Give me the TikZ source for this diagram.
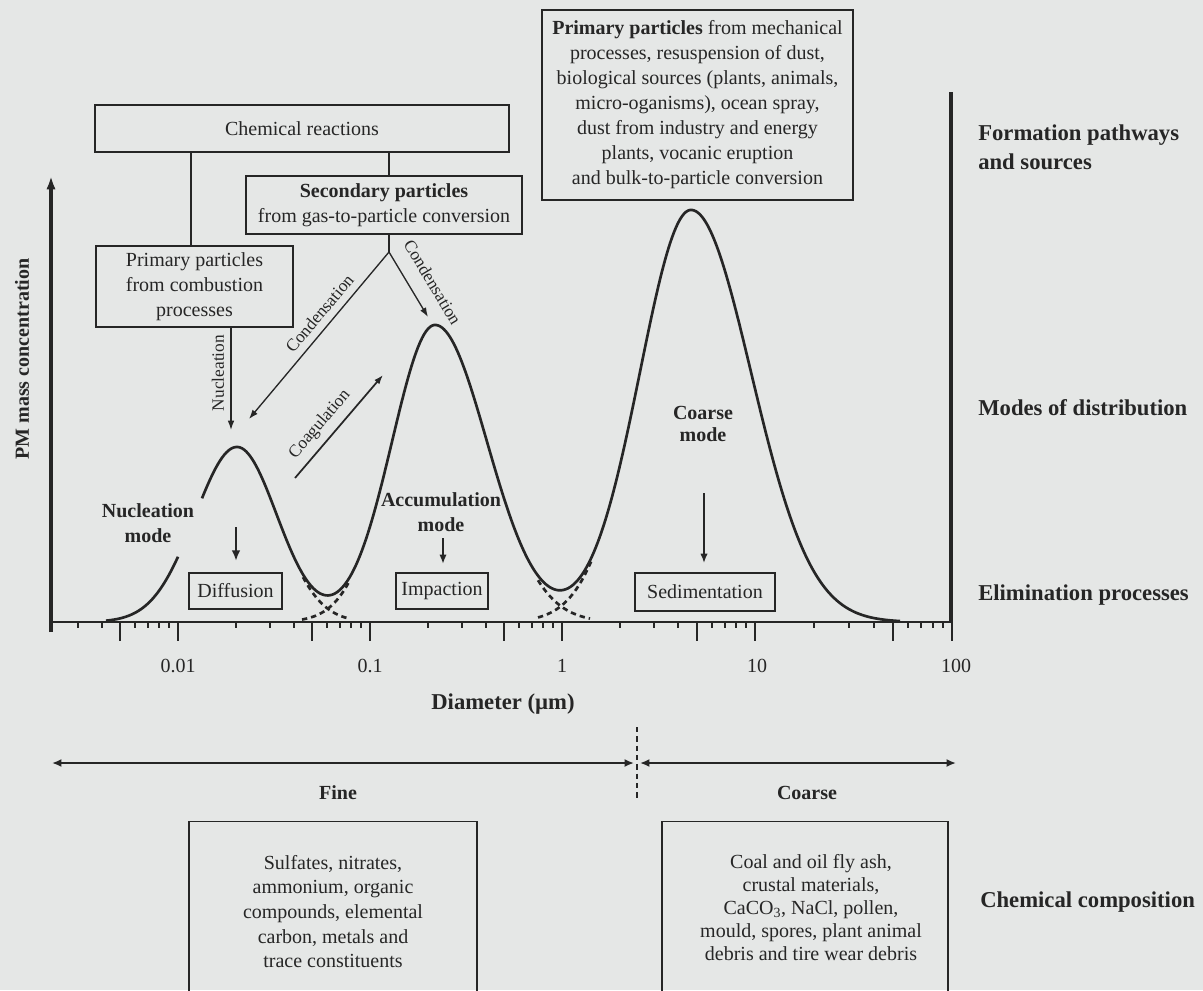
\documentclass[tikz,border=0pt]{standalone}
\usepackage{fontspec}
\setmainfont{Liberation Serif}
\usetikzlibrary{arrows.meta,calc}
\definecolor{bgc}{RGB}{229,231,230}
\definecolor{ink}{RGB}{38,38,38}
\def\pxu{*0.75pt}
\newcommand\myfsbox{\fontsize{15}{18.75}\selectfont}
\newcommand\myfsbig{\fontsize{17}{21.75}\selectfont}
\newcommand\myfssm{\fontsize{13}{15.6}\selectfont}
\newcommand\myfsbl{\fontsize{15}{18.5}\selectfont}
\newcommand\myfsbr{\fontsize{15}{17.25}\selectfont}
\begin{document}
\begin{tikzpicture}[x=0.75pt,y=-0.75pt,
  box/.style={draw=ink, line width=1.1pt, inner sep=0pt, align=center, font=\myfsbox, text=ink},
  openbox/.style={draw=ink, line width=1.1pt, inner sep=0pt, anchor=north},
  lab/.style={inner sep=0pt, align=center, font=\myfsbox, text=ink},
  sidelab/.style={inner sep=0pt, anchor=west, align=left, font=\myfsbig\bfseries, text=ink},
  smalllab/.style={font=\myfssm, text=ink},
  conn/.style={draw=ink, line width=1pt},
  ctip/.style={-{Latex[length=7pt,width=5pt]}},
  dtip/.style={-{Latex[length=7pt,width=5.5pt]}},
  modecurve/.style={draw=ink, line width=2pt, line join=round},
  tailline/.style={draw=ink, line width=2pt, dash pattern=on 4pt off 3pt},
  tickmaj/.style={draw=ink, line width=1.8pt},
  tickmin/.style={draw=ink, line width=1.5pt},
  declare function={
    gN(\u)=175*exp(max(-0.5*((\u-237)/(\u<237 ? 42 : 40))*((\u-237)/(\u<237 ? 42 : 40)),-30));
    gA(\u)=297*exp(max(-0.5*((\u-435)/(\u<435 ? 43 : 52))*((\u-435)/(\u<435 ? 43 : 52)),-30));
    gC(\u)=412*exp(max(-0.5*((\u-691)/(\u<691 ? 51 : 60))*((\u-691)/(\u<691 ? 51 : 60)),-30));
    gT(\u)=gN(\u)+gA(\u)+gC(\u);
  }
]
\fill[bgc] (0,0) rectangle (1203,990);
\useasboundingbox (0,0) rectangle (1203,990);
\clip (0,0) rectangle (1203,990);

% ---------- axes ----------
\coordinate (yb) at (51,632);
\coordinate (yt) at (51,176);
\draw[draw=ink, line width=3pt, -{Latex[length=10pt,width=7pt]}] (yb) -- (yt);
\coordinate (xl) at (49.5,622);
\coordinate (xr) at (952,622);
\draw[draw=ink, line width=2pt] (xl) -- (xr);
\coordinate (rt) at (951,92);
\coordinate (rb) at (951,622);
\draw[draw=ink, line width=2.5pt] (rt) -- (rb);

% ticks
\foreach \da/\db in {-14/178,178/370,370/562,562/755,755/952}{
  \foreach \l in {0.30103,0.47712,0.60206,0.77815,0.84510,0.90309,0.95424}{
    \pgfmathsetmacro\tx{\da+(\db-\da)*\l}
    \pgfmathtruncatemacro\ok{and(\tx>54,\tx<950)}
    \ifnum\ok=1 \draw[tickmin] (\tx,622) -- (\tx,628); \fi
  }
  \pgfmathsetmacro\tm{\da+(\db-\da)*0.69897}
  \draw[tickmaj] (\tm,622) -- (\tm,641);
  \pgfmathtruncatemacro\okb{\da>54}
  \ifnum\okb=1 \draw[tickmaj] (\da,622) -- (\da,641); \fi
}
\draw[tickmaj] (952,622) -- (952,641);

\node[lab] (t001) at (178,666) {0.01};
\node[lab] (t01) at (370,666) {0.1};
\node[lab] (t1) at (562,666) {1};
\node[lab] (t10) at (757,666) {10};
\node[lab] (t100) at (956,666) {100};
\node[lab, font=\myfsbig\bfseries] (xlab) at (503,704) {Diameter (µm)};
\node[lab, font=\myfsbox\bfseries, rotate=90] (ylab) at (22,359) {PM mass concentration};

% ---------- distribution curves ----------
\draw[modecurve] plot[domain=106:178, samples=40] (\x,{622-gT(\x)});
\draw[modecurve] plot[domain=202:900, samples=350] (\x,{622-gT(\x)});
\draw[tailline] plot[domain=303:348, samples=25] (\x,{622-gN(\x)});
\draw[tailline] plot[domain=302:350, samples=25] (\x,{622-gA(\x)});
\draw[tailline] plot[domain=538:590, samples=25] (\x,{622-gA(\x)});
\draw[tailline] plot[domain=538:592, samples=25] (\x,{622-gC(\x)});

% ---------- top boxes ----------
\node[box, minimum width=414\pxu, minimum height=47\pxu] (chem) at (302,128.5) {Chemical reactions};
\node[box, minimum width=276\pxu, minimum height=58\pxu] (sec) at (384,205)
  {\textbf{Secondary particles}\\from gas-to-particle conversion};
\node[box, minimum width=197\pxu, minimum height=81\pxu] (prim) at (194.5,286.5)
  {Primary particles\\from combustion\\processes};
\node[box, minimum width=311\pxu, minimum height=190\pxu] (src) at (697.5,105)
  {\textbf{Primary particles} from mechanical\\processes, resuspension of dust,\\biological sources (plants, animals,\\micro-oganisms), ocean spray,\\dust from industry and energy\\plants, vocanic eruption\\and bulk-to-particle conversion};

\coordinate (pl) at (191,0);
\coordinate (br) at (389,252);
\draw[conn] (chem.south -| pl) -- (prim.north -| pl);
\draw[conn] (chem.south -| br) -- (sec.north -| br);
\draw[conn] (sec.south -| br) -- (br);

\coordinate (cl) at (249,419);
\coordinate (cr) at (428,317);
\draw[conn, ctip] (br) -- node[sloped, above=2pt, pos=0.42, smalllab] (lcond) {Condensation} (cl);
\draw[conn, ctip] (br) -- node[sloped, above=8pt, pos=0.64, smalllab] (rcond) {Condensation} (cr);

\coordinate (nx) at (231,430);
\draw[conn, ctip] (prim.south -| nx) -- (nx);
\node[smalllab, rotate=90, inner sep=0pt] (nuctxt) at (218,373) {Nucleation};

\coordinate (cg1) at (295,478);
\coordinate (cg2) at (383,375);
\draw[conn, line width=1.3pt, ctip] (cg1) -- node[sloped, above=2pt, pos=0.42, smalllab] (coag) {Coagulation} (cg2);

% ---------- mode labels ----------
\node[lab, font=\myfsbox\bfseries] (nucmode) at (148,523) {Nucleation\\mode};
\node[lab, font=\myfsbox\bfseries] (accmode) at (441,512) {Accumulation\\mode};
\node[lab, font=\myfsbox\bfseries, font=\fontsize{15}{16.5}\selectfont\bfseries] (coamode) at (703,424) {Coarse\\mode};

% ---------- elimination ----------
\node[box, minimum width=93\pxu, minimum height=36\pxu] (diff) at (235.5,591) {Diffusion};
\node[box, minimum width=92\pxu, minimum height=36\pxu] (imp) at (442,591) {Impaction};
\node[box, minimum width=140\pxu, minimum height=38\pxu] (sed) at (705,592) {Sedimentation};

\coordinate (d1s) at (236,527); \coordinate (d1e) at (236,561);
\coordinate (d2s) at (443,538); \coordinate (d2e) at (443,564);
\coordinate (d3s) at (704,493); \coordinate (d3e) at (704,563);
\draw[conn, line width=2.2pt, -{Latex[length=8pt,width=6.5pt]}] (d1s) -- (d1e);
\draw[conn, line width=1.5pt, dtip] (d2s) -- (d2e);
\draw[conn, line width=1.1pt, dtip] (d3s) -- (d3e);

% ---------- right-hand headings ----------
\node[sidelab] (hform) at (978,147.5) {Formation pathways\\and sources};
\node[sidelab] (hmodes) at (978,408) {Modes of distribution};
\node[sidelab] (helim) at (978,595) {Elimination processes};
\node[sidelab] (hchem) at (980,902) {Chemical composition};

% ---------- fine / coarse ----------
\coordinate (fineL) at (52,763);
\coordinate (fineR) at (634,763);
\coordinate (coarseL) at (640,763);
\coordinate (coarseR) at (956,763);
\coordinate (divT) at (637,727);
\coordinate (divB) at (637,800);
\draw[conn, line width=1.6pt, {Latex[length=7pt,width=6pt]}-{Latex[length=7pt,width=6pt]}] (fineL) -- (fineR);
\draw[conn, line width=1.6pt, {Latex[length=7pt,width=6pt]}-{Latex[length=7pt,width=6pt]}] (coarseL) -- (coarseR);
\draw[draw=ink, line width=1pt, dash pattern=on 4pt off 3pt] (divT) -- (divB);
\node[lab, font=\myfsbox\bfseries] (finelab) at (338,793) {Fine};
\node[lab, font=\myfsbox\bfseries] (coarselab) at (807,793) {Coarse};

\node[openbox, minimum width=288\pxu, minimum height=200\pxu] (finebox) at (333,821) {};
\node[lab, font=\myfsbl] (finetxt) at (333,911.5)
  {Sulfates, nitrates,\\ammonium, organic\\compounds, elemental\\carbon, metals and\\trace constituents};
\node[openbox, minimum width=286\pxu, minimum height=200\pxu] (coarsebox) at (805,821) {};
\node[lab, font=\myfsbr] (coarsetxt) at (811,908)
  {Coal and oil fly ash,\\crustal materials,\\CaCO\textsubscript{3}, NaCl, pollen,\\mould, spores, plant animal\\debris and tire wear debris};
\end{tikzpicture}
\end{document}
